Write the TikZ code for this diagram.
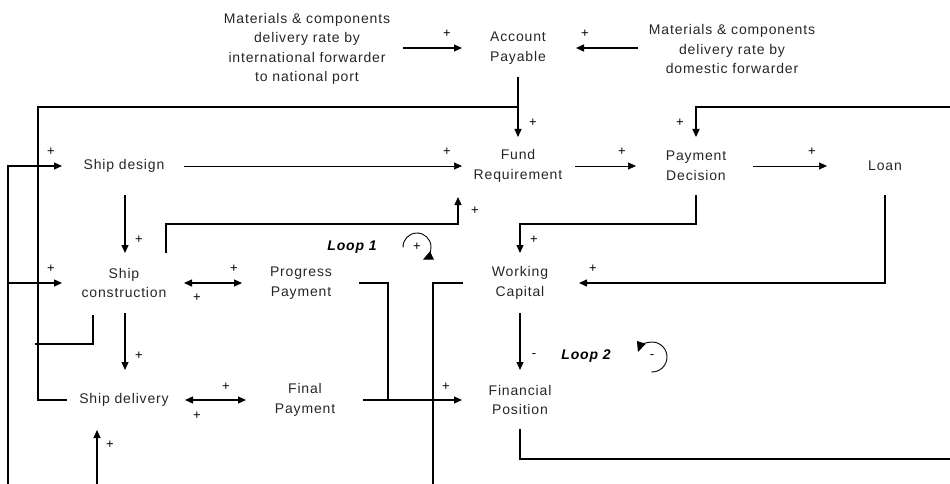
\documentclass[tikz,border=0pt]{standalone}
\usepackage{fontspec}
\setmainfont{Liberation Sans}[LetterSpace=6]
\usetikzlibrary{arrows.meta}
\begin{document}
\begin{tikzpicture}[x=1pt,y=-1pt,
  lbl/.style={font=\fontsize{14}{19.5}\selectfont, align=center, inner sep=0, text=black!85},
  pl/.style={font=\fontsize{13}{13}\selectfont, inner sep=0},
  tip/.style={-{Triangle[length=8pt,width=7pt]}},
  arr/.style={line width=1.2pt, tip},
  ln/.style={line width=1.2pt},
  thinarr/.style={line width=0.7pt, tip},
  dbl/.style={line width=1.2pt, {Triangle[length=8pt,width=7pt]}-{Triangle[length=8pt,width=7pt]}},
  looplbl/.style={font=\fontsize{14}{16}\selectfont\bfseries\itshape, inner sep=0},
  looparc/.style={line width=0.9pt, -{Triangle[length=10pt,width=9pt]}}
]
\useasboundingbox (0,0) rectangle (950,484);

% nodes
\node[lbl] (mi) at (307,49) {Materials \& components\\delivery rate by\\international forwarder\\to national port};
\node[lbl] (ap) at (518,48) {Account\\Payable};
\node[lbl] (md) at (732,49) {Materials \& components\\delivery rate by\\domestic forwarder};
\node[lbl] (sd) at (124,166) {Ship design};
\node[lbl] (fr) at (518,166) {Fund\\Requirement};
\node[lbl] (pd) at (696,166) {Payment\\Decision};
\node[lbl] (loan) at (885,166) {Loan};
\node[lbl] (sc) at (124,283) {Ship\\construction};
\node[lbl] (pp) at (301,283) {Progress\\Payment};
\node[lbl] (wc) at (520,283) {Working\\Capital};
\node[lbl] (sdl) at (124,400) {Ship delivery};
\node[lbl] (fpay) at (305,400) {Final\\Payment};
\node[lbl] (fpos) at (520,400) {Financial\\Position};
\node[looplbl] (loop1) at (352,247) {Loop 1};
\node[looplbl] (loop2) at (586,356) {Loop 2};

% coordinates
\coordinate (l1c) at (417,247);
\coordinate (l2c) at (652,357);

% connectors
\draw[arr] (403,48) -- (462,48);
\node[pl] at (447,34) {+};
\draw[arr] (638,48) -- (576,48);
\node[pl] at (585,34) {+};
\draw[arr] (518,77) -- (518,137);
\node[pl] at (533,123) {+};
\draw[ln] (518,107) -- (38,107) -- (38,400) -- (67,400);

\draw[arr] (8,484) -- (8,166) -- (62,166);
\node[pl] at (51,152) {+};
\draw[arr] (8,283) -- (62,283);
\node[pl] at (51,269) {+};

\draw[thinarr] (184,166) -- (462,166);
\node[pl] at (447,152) {+};
\draw[thinarr] (575,166) -- (636,166);
\node[pl] at (622,152) {+};
\draw[thinarr] (753,166) -- (827,166);
\node[pl] at (812,152) {+};

\draw[arr] (950,107) -- (696,107) -- (696,137);
\node[pl] at (680,123) {+};
\draw[arr] (696,195) -- (696,224) -- (520,224) -- (520,253);
\node[pl] at (534,240) {+};
\draw[arr] (885,195) -- (885,283) -- (579,283);
\node[pl] at (593,269) {+};
\draw[arr] (520,313) -- (520,370);
\node[pl] at (534,356) {-};
\draw[ln] (520,429) -- (520,459) -- (950,459);

\draw[arr] (125,195) -- (125,253);
\node[pl] at (139,240) {+};
\draw[arr] (166,253) -- (166,224) -- (458,224) -- (458,197);
\node[pl] at (475,211) {+};
\draw[dbl] (184,283) -- (242,283);
\node[pl] at (234,269) {+};
\node[pl] at (197,298) {+};
\draw[ln] (359,283) -- (388,283) -- (388,400);
\draw[ln] (463,283) -- (433,283) -- (433,484);
\draw[ln] (93,315) -- (93,344) -- (35,344);
\draw[arr] (125,313) -- (125,370);
\node[pl] at (139,356) {+};
\draw[dbl] (185,400) -- (246,400);
\node[pl] at (226,387) {+};
\node[pl] at (197,416) {+};
\draw[arr] (363,400) -- (462,400);
\node[pl] at (446,387) {+};
\draw[arr] (97,484) -- (97,430);
\node[pl] at (110,445) {+};

% loop symbols
\draw[looparc] ([shift={(182:14pt)}]l1c) arc[start angle=182, end angle=-65, radius=14pt];
\node[pl] at (l1c) {+};
\draw[looparc] ([shift={(-92:15pt)}]l2c) arc[start angle=-92, end angle=160, radius=15pt];
\node[pl] at (l2c) {-};
\end{tikzpicture}
\end{document}
